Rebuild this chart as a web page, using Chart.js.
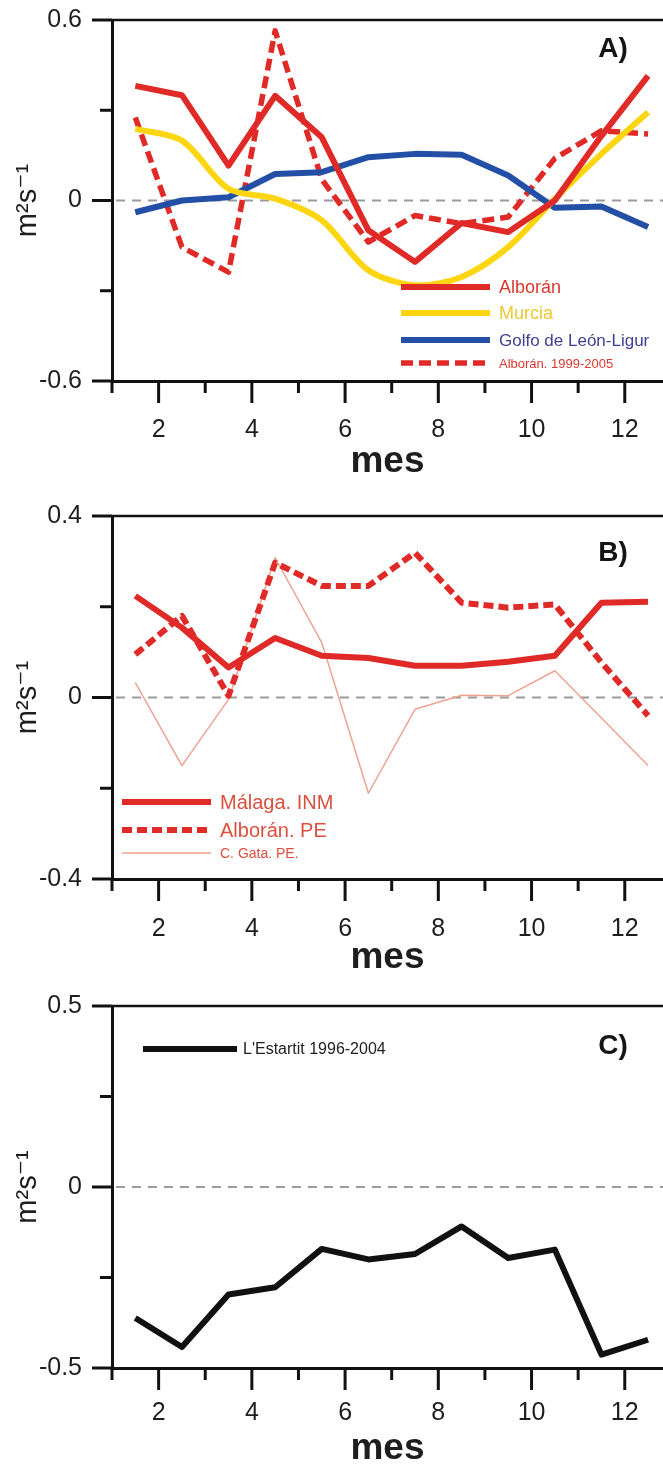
<!DOCTYPE html>
<html><head><meta charset="utf-8">
<script src="https://cdn.jsdelivr.net/npm/chart.js@4.4.1/dist/chart.umd.min.js"></script>
<style>
html,body{margin:0;padding:0;background:#fff;}
#wrap{position:relative;width:663px;height:1468px;background:#fff;}
canvas{position:absolute;left:0;display:block;}
</style></head><body>
<div id="wrap">
<canvas id="cA" width="663" height="490" style="top:0px"></canvas>
<canvas id="cB" width="663" height="500" style="top:490px"></canvas>
<canvas id="cC" width="663" height="478" style="top:990px"></canvas>
</div>
<script>
// ---- data ----
const months = [1.5, 2.5, 3.5, 4.5, 5.5, 6.5, 7.5, 8.5, 9.5, 10.5, 11.5, 12.5];
const xTickValues = [1, 2, 3, 4, 5, 6, 7, 8, 9, 10, 11, 12];
const xLabelValues = [2, 4, 6, 8, 10, 12];

// Panel A
const alboranA   = [0.381, 0.350, 0.116, 0.348, 0.210, -0.099, -0.204, -0.075, -0.105, 0.000, 0.215, 0.414];
const murciaA    = [0.238, 0.199, 0.039, 0.006, -0.066, -0.232, -0.282, -0.254, -0.155, 0.005, 0.155, 0.293];
const golfoA     = [-0.039, 0.000, 0.011, 0.088, 0.094, 0.144, 0.155, 0.152, 0.083, -0.024, -0.020, -0.088];
const alboran9905A = [0.276, -0.155, -0.238, 0.564, 0.070, -0.138, -0.050, -0.077, -0.055, 0.140, 0.232, 0.221];
const yTicksA = [-0.6, -0.3, 0, 0.3, 0.6];
const yLabelsA = [-0.6, 0, 0.6];

// Panel B
const malagaB    = [0.224, 0.154, 0.066, 0.131, 0.092, 0.087, 0.070, 0.070, 0.079, 0.092, 0.209, 0.211];
const alboranPEB = [0.095, 0.180, 0.004, 0.297, 0.246, 0.246, 0.319, 0.209, 0.198, 0.205, 0.077, -0.040];
const gataB      = [0.033, -0.150, -0.004, 0.308, 0.121, -0.211, -0.026, 0.005, 0.004, 0.059, -0.045, -0.150];
const yTicksB = [-0.4, -0.2, 0, 0.2, 0.4];
const yLabelsB = [-0.4, 0, 0.4];

// Panel C
const estartitC  = [-0.362, -0.442, -0.297, -0.277, -0.171, -0.200, -0.185, -0.109, -0.196, -0.173, -0.463, -0.422];
const yTicksC = [-0.5, -0.25, 0, 0.25, 0.5];
const yLabelsC = [-0.5, 0, 0.5];

// ---- styling ----
const FONT = "'Liberation Sans', Arial, 'DejaVu Sans', sans-serif";
const RED = '#e02a27';
const YELLOW = '#fdd611';
const BLUE = '#2350a6';
const SALMON = '#eea391';
const BLACK = '#111111';

const zip = vals => months.map((m, i) => ({x: m, y: vals[i]}));

const deco = {
  id: 'deco',
  beforeDatasetsDraw(chart, args, o) {
    const ctx = chart.ctx, ca = chart.chartArea, y = chart.scales.y.getPixelForValue(0);
    ctx.save();
    ctx.strokeStyle = '#9a9a9a'; ctx.lineWidth = 2; ctx.setLineDash([9, 7]);
    ctx.beginPath(); ctx.moveTo(ca.left + 4, y); ctx.lineTo(chart.width, y); ctx.stroke();
    ctx.restore();
  },
  afterDatasetsDraw(chart, args, o) {
    const ctx = chart.ctx;
    ctx.save();
    (o.items || []).forEach(it => {
      const ds = chart.data.datasets[it.ds];
      ctx.strokeStyle = ds.borderColor; ctx.lineWidth = ds.borderWidth;
      ctx.setLineDash(ds.borderDash || []);
      ctx.lineCap = 'butt';
      ctx.beginPath(); ctx.moveTo(it.x1, it.y); ctx.lineTo(it.x2, it.y); ctx.stroke();
      ctx.setLineDash([]);
      ctx.fillStyle = it.color; ctx.font = it.font;
      ctx.textAlign = 'left'; ctx.textBaseline = 'middle';
      ctx.fillText(ds.label, it.tx, it.y + 1);
    });
    ctx.fillStyle = '#151515'; ctx.font = "bold 28px " + FONT;
    ctx.textAlign = 'center'; ctx.textBaseline = 'middle';
    ctx.fillText(o.panel, 613, o.panelY);
    ctx.restore();
  },
  afterDraw(chart, args, o) {
    const ctx = chart.ctx, ca = chart.chartArea, xs = chart.scales.x, ys = chart.scales.y;
    ctx.save();
    ctx.strokeStyle = BLACK; ctx.lineWidth = 3; ctx.lineCap = 'butt';
    xs.ticks.forEach(t => {
      const px = xs.getPixelForValue(t.value);
      const len = t.label !== '' ? 22 : 12;
      ctx.beginPath(); ctx.moveTo(px, ca.bottom); ctx.lineTo(px, ca.bottom + len); ctx.stroke();
    });
    ys.ticks.forEach(t => {
      const py = ys.getPixelForValue(t.value);
      const len = t.label !== '' ? 20 : 12;
      ctx.beginPath(); ctx.moveTo(ca.left - len, py); ctx.lineTo(ca.left, py); ctx.stroke();
    });
    ctx.lineWidth = 2.5;
    ctx.beginPath(); ctx.moveTo(ca.left, ca.top); ctx.lineTo(chart.width, ca.top); ctx.stroke();
    ctx.restore();
  }
};

function makeChart(id, c) {
  return new Chart(document.getElementById(id), {
    type: 'line',
    data: {datasets: c.datasets},
    options: {
      responsive: false, animation: false, events: [],
      layout: {padding: {top: c.padTop, left: 0, right: 0, bottom: 0}},
      elements: {point: {radius: 0}, line: {borderJoinStyle: 'round', borderCapStyle: 'butt'}},
      plugins: {
        legend: {display: false}, tooltip: {enabled: false},
        deco: {items: c.legend, panel: c.panel, panelY: c.panelY}
      },
      scales: {
        x: {
          type: 'linear', min: 1, max: 12.82,
          afterBuildTicks: s => { s.ticks = xTickValues.map(v => ({value: v})); },
          afterFit: s => { s.height = c.xAxisHeight; s.paddingLeft = 0; s.paddingRight = 0; },
          grid: {display: false, drawTicks: false},
          border: {display: true, color: BLACK, width: 3},
          ticks: {autoSkip: false, maxRotation: 0, padding: c.xLabelPad, color: '#1e1e1e',
                  font: {family: FONT, size: 25},
                  callback: v => xLabelValues.includes(v) ? String(v) : ''},
          title: {display: true, text: 'mes', color: '#1e1e1e',
                  font: {family: FONT, size: 37, weight: 'bold', lineHeight: 1},
                  padding: {top: 0, bottom: c.titlePad}}
        },
        y: {
          type: 'linear', min: c.yTicks[0], max: c.yTicks[c.yTicks.length - 1],
          afterBuildTicks: s => { s.ticks = c.yTicks.map(v => ({value: v})); },
          afterFit: s => { s.width = 112; s.paddingTop = 0; s.paddingBottom = 0; },
          grid: {display: false, drawTicks: false},
          border: {display: true, color: BLACK, width: 3},
          ticks: {padding: 30, color: '#1e1e1e', font: {family: FONT, size: 25},
                  callback: v => c.yLabels.includes(v) ? String(v) : ''},
          title: {display: true, text: 'm²s⁻¹', color: '#1e1e1e',
                  font: {family: FONT, size: 29, lineHeight: 1},
                  padding: {top: 13, bottom: 0}}
        }
      }
    },
    plugins: [deco]
  });
}

makeChart('cA', {
  padTop: 20, xAxisHeight: 109, xLabelPad: 34, titlePad: 10,
  yTicks: yTicksA, yLabels: yLabelsA, panel: 'A)', panelY: 49,
  datasets: [
    {label: 'Alborán', data: zip(alboranA), borderColor: RED, borderWidth: 6},
    {label: 'Murcia', data: zip(murciaA), borderColor: YELLOW, borderWidth: 6, tension: 0.3},
    {label: 'Golfo de León-Ligur', data: zip(golfoA), borderColor: BLUE, borderWidth: 6},
    {label: 'Alborán. 1999-2005', data: zip(alboran9905A), borderColor: RED, borderWidth: 5.5, borderDash: [12, 6]}
  ],
  legend: [
    {ds: 0, x1: 401, x2: 490, y: 287, tx: 499, font: "18px " + FONT, color: '#d9382e'},
    {ds: 1, x1: 401, x2: 490, y: 313, tx: 499, font: "18px " + FONT, color: '#ecc832'},
    {ds: 2, x1: 401, x2: 490, y: 340, tx: 499, font: "17px " + FONT, color: '#3d3f95'},
    {ds: 3, x1: 401, x2: 490, y: 363, tx: 499, font: "13px " + FONT, color: '#d9382e'}
  ]
});

makeChart('cB', {
  padTop: 26, xAxisHeight: 111, xLabelPad: 35, titlePad: 14,
  yTicks: yTicksB, yLabels: yLabelsB, panel: 'B)', panelY: 63,
  datasets: [
    {label: 'Málaga. INM', data: zip(malagaB), borderColor: RED, borderWidth: 6},
    {label: 'Alborán. PE', data: zip(alboranPEB), borderColor: RED, borderWidth: 6, borderDash: [10, 5]},
    {label: 'C. Gata. PE.', data: zip(gataB), borderColor: SALMON, borderWidth: 1.5}
  ],
  legend: [
    {ds: 0, x1: 122, x2: 211, y: 312, tx: 220, font: "20px " + FONT, color: '#d9503f'},
    {ds: 1, x1: 122, x2: 211, y: 340, tx: 220, font: "20px " + FONT, color: '#d9503f'},
    {ds: 2, x1: 122, x2: 211, y: 363, tx: 220, font: "14px " + FONT, color: '#d9503f'}
  ]
});

makeChart('cC', {
  padTop: 16, xAxisHeight: 100, xLabelPad: 30, titlePad: 1,
  yTicks: yTicksC, yLabels: yLabelsC, panel: 'C)', panelY: 56,
  datasets: [
    {label: "L'Estartit 1996-2004", data: zip(estartitC), borderColor: BLACK, borderWidth: 6}
  ],
  legend: [
    {ds: 0, x1: 143, x2: 237, y: 59, tx: 243, font: "16px " + FONT, color: '#222222'}
  ]
});
</script>
</body></html>
